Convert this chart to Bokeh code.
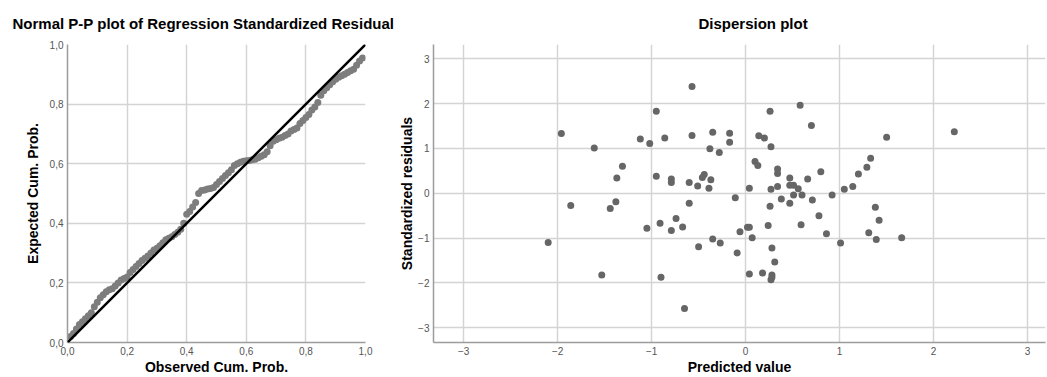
from bokeh.plotting import figure
from bokeh.layouts import row
from bokeh.models import Range1d, FixedTicker, CustomJSTickFormatter, Slope
from bokeh.embed import file_html
from bokeh.resources import INLINE

# ---------------- data ----------------
observed_cum_prob = [
    0.01, 0.02, 0.03, 0.04, 0.05, 0.06, 0.07, 0.08, 0.09, 0.10,
    0.11, 0.12, 0.13, 0.14, 0.15, 0.16, 0.17, 0.18, 0.19, 0.20,
    0.21, 0.22, 0.23, 0.24, 0.25, 0.26, 0.27, 0.28, 0.29, 0.30,
    0.31, 0.32, 0.33, 0.34, 0.35, 0.36, 0.37, 0.38, 0.39, 0.40,
    0.41, 0.42, 0.43, 0.44, 0.45, 0.46, 0.47, 0.48, 0.49, 0.50,
    0.51, 0.52, 0.53, 0.54, 0.55, 0.56, 0.57, 0.58, 0.59, 0.60,
    0.61, 0.62, 0.63, 0.64, 0.65, 0.66, 0.67, 0.68, 0.69, 0.70,
    0.71, 0.72, 0.73, 0.74, 0.75, 0.76, 0.77, 0.78, 0.79, 0.80,
    0.81, 0.82, 0.83, 0.84, 0.85, 0.86, 0.87, 0.88, 0.89, 0.90,
    0.91, 0.92, 0.93, 0.94, 0.95, 0.96, 0.97, 0.98, 0.99,
]
expected_cum_prob = [
    0.020, 0.030, 0.045, 0.060, 0.070, 0.080, 0.090, 0.100, 0.120, 0.135,
    0.150, 0.160, 0.170, 0.177, 0.180, 0.190, 0.200, 0.210, 0.215, 0.220,
    0.235, 0.245, 0.255, 0.265, 0.275, 0.283, 0.290, 0.300, 0.310, 0.316,
    0.325, 0.335, 0.345, 0.350, 0.355, 0.362, 0.370, 0.380, 0.400, 0.430,
    0.440, 0.455, 0.470, 0.500, 0.510, 0.512, 0.515, 0.517, 0.520, 0.530,
    0.540, 0.550, 0.560, 0.570, 0.580, 0.594, 0.600, 0.605, 0.608, 0.610,
    0.611, 0.613, 0.615, 0.620, 0.625, 0.630, 0.640, 0.660, 0.675, 0.680,
    0.685, 0.689, 0.695, 0.700, 0.710, 0.715, 0.720, 0.735, 0.745, 0.755,
    0.765, 0.780, 0.790, 0.805, 0.830, 0.845, 0.855, 0.865, 0.875, 0.883,
    0.890, 0.895, 0.900, 0.906, 0.912, 0.917, 0.930, 0.945, 0.955,
]

predicted_value = [
    -2.10, -1.96, -1.86, -1.61, -1.53, -1.44, -1.38, -1.37, -1.31, -1.12,
    -1.05, -1.02, -0.95, -0.95, -0.91, -0.90, -0.86, -0.79, -0.79, -0.79,
    -0.74, -0.67, -0.65, -0.60, -0.60, -0.57, -0.57, -0.51, -0.50, -0.46,
    -0.44, -0.39, -0.38, -0.37, -0.35, -0.35, -0.28, -0.27, -0.17, -0.17,
    -0.11, -0.09, -0.06, 0.02, 0.04, 0.04, 0.04, 0.07, 0.10, 0.13,
    0.14, 0.18, 0.20, 0.24, 0.26, 0.26, 0.27, 0.27, 0.27, 0.28,
    0.28, 0.28, 0.31, 0.34, 0.34, 0.34, 0.38, 0.47, 0.47, 0.47,
    0.51, 0.51, 0.56, 0.58, 0.59, 0.60, 0.66, 0.70, 0.71, 0.78,
    0.80, 0.86, 0.92, 1.01, 1.05, 1.14, 1.20, 1.29, 1.31, 1.33,
    1.38, 1.39, 1.42, 1.50, 1.66, 2.22,
]
standardized_residuals = [
    -1.10, 1.33, -0.27, 1.01, -1.82, -0.34, -0.19, 0.34, 0.60, 1.21,
    -0.78, 1.11, 1.83, 0.38, -0.67, -1.87, 1.23, 0.32, 0.24, -0.83,
    -0.56, -0.75, -2.57, 0.24, -0.22, 2.38, 1.29, 0.16, -1.19, 0.35,
    0.42, 0.11, 0.99, 0.30, 1.36, -1.02, 0.91, -1.11, 1.34, 1.14,
    -0.10, -1.33, -0.86, -0.76, -0.76, 0.11, -1.80, -0.99, 0.71, 0.62,
    1.28, -1.78, 1.23, -0.72, 1.83, -0.29, 1.04, 0.09, -1.93, -1.22,
    -1.82, -1.87, -1.53, 0.54, 0.44, 0.15, -0.13, 0.34, 0.18, -0.22,
    0.18, -0.04, 0.10, 1.96, -0.70, -0.04, 0.32, 1.51, -0.15, -0.50,
    0.48, -0.90, -0.04, -1.11, 0.09, 0.15, 0.43, 0.58, -0.88, 0.78,
    -0.31, -1.03, -0.60, 1.25, -0.99, 1.37,
]

pp_ticks = [0.0, 0.2, 0.4, 0.6, 0.8, 1.0]
disp_ticks = [-3, -2, -1, 0, 1, 2, 3]

FONT = "Liberation Sans"
GRID = "#d4d4d4"
AXIS = "#9c9c9c"
TICK_TXT = "#555555"


def style(p, xlabel, ylabel, y_label_standoff, x_label_standoff):
    p.background_fill_color = "white"
    p.border_fill_color = "white"
    p.outline_line_color = None
    p.title.text_font = FONT
    p.title.text_font_size = "15px"
    p.title.text_font_style = "bold"
    p.title.text_color = "black"
    p.title.align = "left"
    p.title.standoff = 25
    for g in (p.xgrid[0], p.ygrid[0]):
        g.grid_line_color = GRID
        g.grid_line_width = 1.5
    for ax in (p.xaxis[0], p.yaxis[0]):
        ax.axis_line_color = AXIS
        ax.axis_line_width = 1.5
        ax.major_tick_out = 0
        ax.major_tick_in = 0
        ax.minor_tick_out = 0
        ax.minor_tick_in = 0
        ax.major_label_text_font = FONT
        ax.major_label_text_font_size = "10px"
        ax.major_label_text_color = TICK_TXT
        ax.major_label_standoff = 4
        ax.axis_label_text_font = FONT
        ax.axis_label_text_font_size = "14px"
        ax.axis_label_text_font_style = "bold"
        ax.axis_label_text_color = "black"
    p.xaxis[0].axis_label = xlabel
    p.yaxis[0].axis_label = ylabel
    p.yaxis[0].axis_label_standoff = y_label_standoff
    p.xaxis[0].axis_label_standoff = x_label_standoff


# ---------------- left: P-P plot ----------------
p1 = figure(width=395, height=377, x_range=Range1d(0, 1), y_range=Range1d(0, 1),
            output_backend="svg", toolbar_location=None,
            title="Normal P-P plot of Regression Standardized Residual",
            min_border_left=67, min_border_right=30, min_border_top=44, min_border_bottom=34)
style(p1, "Observed Cum. Prob.", "Expected Cum. Prob.", 6, 1)
p1.title.offset = -55
fmt = CustomJSTickFormatter(code="return tick.toFixed(1).replace('.', ',');")
p1.xaxis[0].ticker = FixedTicker(ticks=pp_ticks)
p1.yaxis[0].ticker = FixedTicker(ticks=pp_ticks)
p1.xaxis[0].formatter = fmt
p1.yaxis[0].formatter = fmt
p1.scatter(observed_cum_prob, expected_cum_prob, size=7, fill_color="#7d7d7d",
           line_color=None)
p1.add_layout(Slope(gradient=1, y_intercept=0, line_color="black", line_width=2.5))

# ---------------- right: dispersion plot ----------------
p2 = figure(width=652, height=377, x_range=Range1d(-3.32, 3.19), y_range=Range1d(-3.327, 3.317),
            output_backend="svg", toolbar_location=None, title="Dispersion plot",
            min_border_left=38, min_border_right=2, min_border_top=44, min_border_bottom=34)
style(p2, "Predicted value", "Standardized residuals", 0, 1)
p2.title.offset = 265
p2.xaxis[0].ticker = FixedTicker(ticks=disp_ticks)
p2.yaxis[0].ticker = FixedTicker(ticks=disp_ticks)
p2.scatter(predicted_value, standardized_residuals, size=7, fill_color="#666666",
           line_color=None)

layout = row(p1, p2)
open("out.html", "w").write(file_html(layout, INLINE))
